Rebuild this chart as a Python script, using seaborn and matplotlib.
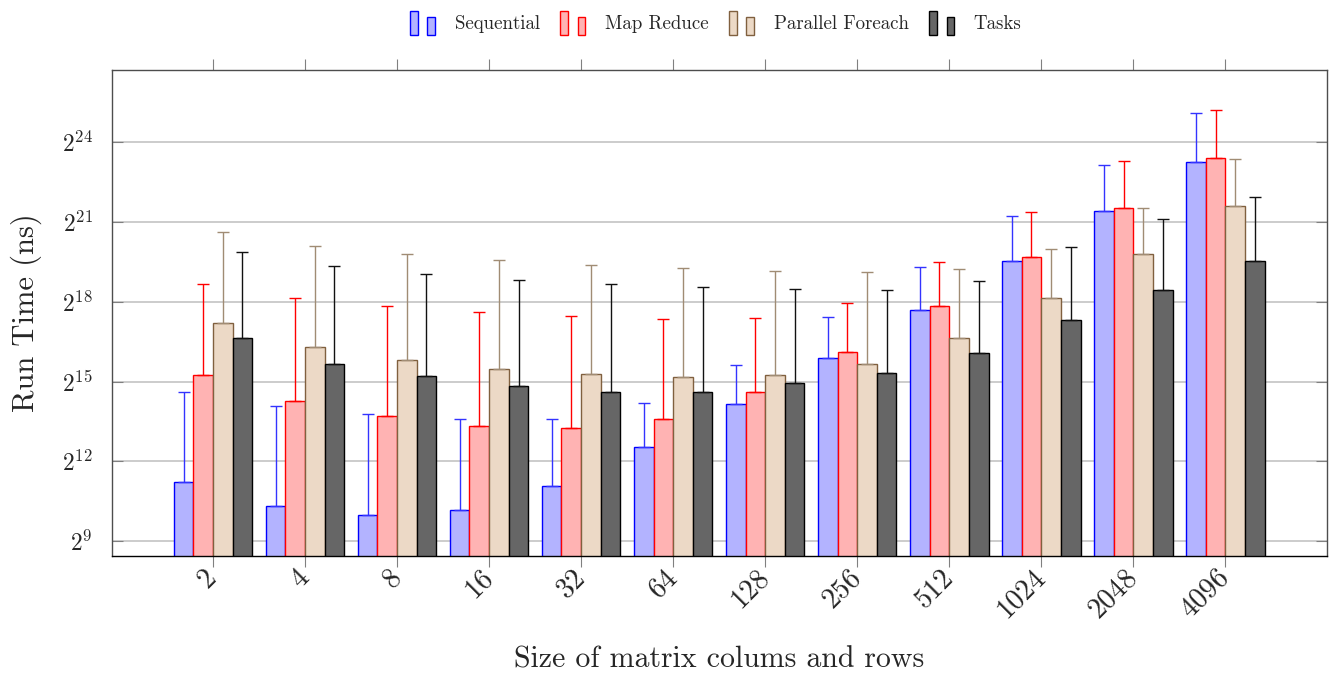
import numpy as np
import pandas as pd
import matplotlib
matplotlib.use("Agg")
import matplotlib.pyplot as plt
import seaborn as sns
from matplotlib.patches import Rectangle
from matplotlib.legend_handler import HandlerBase
from matplotlib.ticker import FixedLocator, FuncFormatter, NullLocator

# Matrix sizes (columns = rows)
sizes = ["2", "4", "8", "16", "32", "64", "128", "256", "512", "1024", "2048", "4096"]
methods = ["Sequential", "Map Reduce", "Parallel Foreach", "Tasks"]

# Mean run time (ns) and standard deviation (ns) per method
seq_mean = [2370, 1290, 1020, 1150, 2170, 5960, 18200, 61200, 213000, 757000, 2770000, 10100000]
seq_std = [22600, 16000, 13100, 11300, 10300, 12900, 32500, 117000, 442000, 1720000, 6540000, 25600000]

mr_mean = [38400, 19600, 13200, 10400, 9740, 12400, 25000, 70700, 235000, 834000, 3030000, 11100000]
mr_std = [382000, 269000, 220000, 191000, 169000, 156000, 148000, 186000, 497000, 1880000, 7160000, 27500000]

pf_mean = [152000, 80700, 57100, 45100, 39500, 36900, 38400, 51800, 103000, 289000, 919000, 3160000]
pf_std = [1450000, 1035000, 850000, 728000, 652000, 595000, 551000, 518000, 508000, 752000, 2130000, 7610000]

tk_mean = [101000, 51400, 37900, 29100, 25000, 25200, 31400, 40600, 69300, 161000, 353000, 752000]
tk_std = [863000, 617000, 509000, 437000, 392000, 356000, 332000, 315000, 384000, 924000, 1890000, 3300000]

means = {"Sequential": seq_mean, "Map Reduce": mr_mean,
         "Parallel Foreach": pf_mean, "Tasks": tk_mean}
stds = {"Sequential": seq_std, "Map Reduce": mr_std,
        "Parallel Foreach": pf_std, "Tasks": tk_std}

fills = {"Sequential": "#B3B3FF", "Map Reduce": "#FFB3B3",
         "Parallel Foreach": "#ECD9C6", "Tasks": "#666666"}
edges = {"Sequential": "#0000FF", "Map Reduce": "#FF0000",
         "Parallel Foreach": "#80603F", "Tasks": "#000000"}
err_colors = {"Sequential": "#3333FF", "Map Reduce": "#FF0000",
              "Parallel Foreach": "#A08C74", "Tasks": "#111111"}

rows = []
for m in methods:
    for s, v in zip(sizes, means[m]):
        rows.append({"size": s, "method": m, "time": v})
df = pd.DataFrame(rows)

sns.set_style("white")
plt.rcParams["font.family"] = ["cmr10", "DejaVu Serif"]
plt.rcParams["mathtext.fontset"] = "cm"
plt.rcParams["axes.formatter.use_mathtext"] = True
plt.rcParams["axes.unicode_minus"] = False

fig = plt.figure(figsize=(13.38, 6.78), dpi=100)
ax = fig.add_axes([0.0835, 0.1804, 0.908, 0.7164])

sns.barplot(data=df, x="size", y="time", hue="method", order=sizes,
            hue_order=methods, palette=fills, saturation=1, width=0.853,
            errorbar=None, legend=False, ax=ax, linewidth=1.0, zorder=2)
ax.set_yscale("log", base=2)

# Bar outlines and one-sided (upper) error bars
for container, m in zip(ax.containers, methods):
    for bar in container:
        bar.set_edgecolor(edges[m])
    xs = [b.get_x() + b.get_width() / 2 for b in container]
    n = len(xs)
    ax.errorbar(xs, means[m], yerr=[np.zeros(n), stds[m]], fmt="none",
                ecolor=err_colors[m], elinewidth=1.0, capsize=4,
                capthick=1.0, zorder=3)

ax.set_xlim(-1.1, 12.1)
ax.set_ylim(2 ** 8.447, 2 ** 26.72)

ax.yaxis.set_major_locator(FixedLocator([2.0 ** p for p in range(9, 25, 3)]))
ax.yaxis.set_minor_locator(NullLocator())
ax.yaxis.set_major_formatter(
    FuncFormatter(lambda v, pos: r"$2^{%d}$" % int(round(np.log2(v)))))

ax.yaxis.grid(True, color="#BFBFBF", linewidth=1.1)
ax.xaxis.grid(False)
ax.set_axisbelow(True)

ax.tick_params(axis="x", which="major", direction="out", length=8,
               width=0.8, color="#808080", top=True, bottom=True,
               labelsize=20.5, pad=5)
ax.tick_params(axis="y", which="major", direction="in", length=8,
               width=0.8, color="#808080", left=True, right=True,
               labelsize=17, pad=13.5)
ax.set_xticks(range(len(sizes)))
ax.set_xticklabels(sizes, rotation=45, ha="right", va="center",
                   rotation_mode="anchor")

for side in ["left", "top", "right"]:
    ax.spines[side].set_color("#4D4D4D")
    ax.spines[side].set_linewidth(1.0)
ax.spines["bottom"].set_color("black")
ax.spines["bottom"].set_linewidth(1.0)

ax.set_xlabel("Size of matrix colums and rows", fontsize=21.5)
ax.set_ylabel("Run Time (ns)", fontsize=22)
ax.xaxis.set_label_coords(0.5, -0.186)
ax.yaxis.set_label_coords(-0.057, 0.5)


class TwinBarHandler(HandlerBase):
    """Legend image made of two small bars, the first taller than the second."""

    def create_artists(self, legend, orig_handle, xdescent, ydescent,
                       width, height, fontsize, trans):
        fc = orig_handle.get_facecolor()
        ec = orig_handle.get_edgecolor()
        bw = width * 0.3
        tall = Rectangle((-xdescent, -ydescent - 0.15 * height), bw, height * 1.25,
                         facecolor=fc, edgecolor=ec, lw=1.0, transform=trans)
        short = Rectangle((-xdescent + width - bw, -ydescent - 0.15 * height), bw,
                          height * 0.93, facecolor=fc, edgecolor=ec,
                          lw=1.0, transform=trans)
        return [tall, short]


handles = [Rectangle((0, 0), 1, 1, facecolor=fills[m], edgecolor=edges[m])
           for m in methods]
fig.legend(handles, methods, handler_map={Rectangle: TwinBarHandler()},
           loc="center", bbox_to_anchor=(0.535, 0.966), ncol=4,
           frameon=False, fontsize=13.6, handlelength=1.3, handleheight=1.2,
           handletextpad=1.05, columnspacing=1.1)

fig.savefig("out.png", dpi=100)
